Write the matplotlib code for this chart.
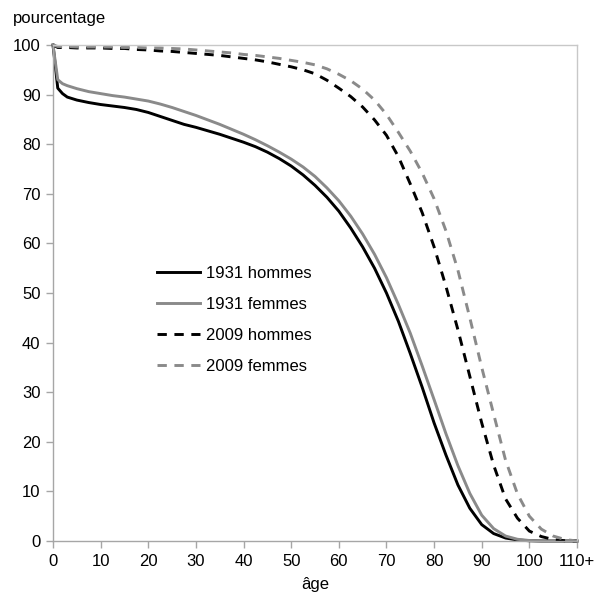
import matplotlib
matplotlib.use("Agg")
import matplotlib.pyplot as plt

plt.rcParams['font.family'] = ['Liberation Sans', 'DejaVu Sans']

ages = [0, 1, 2, 3, 5, 7.5, 10, 12.5, 15, 17.5, 20, 22.5, 25, 27.5, 30, 32.5,
        35, 37.5, 40, 42.5, 45, 47.5, 50, 52.5, 55, 57.5, 60, 62.5, 65, 67.5,
        70, 72.5, 75, 77.5, 80, 82.5, 85, 87.5, 90, 92.5, 95, 97.5, 100, 102.5,
        105, 107.5, 110]
hommes_1931 = [100, 91.3, 90.2, 89.5, 88.9, 88.4, 88.0, 87.7, 87.4, 87.0, 86.4,
               85.6, 84.8, 84.0, 83.4, 82.7, 82.0, 81.2, 80.4, 79.5, 78.4, 77.1,
               75.6, 73.8, 71.7, 69.3, 66.5, 63.1, 59.3, 55.0, 50.0, 44.3, 37.8,
               31.0, 23.8, 17.3, 11.3, 6.6, 3.3, 1.5, 0.6, 0.2, 0.05, 0, 0, 0, 0]
femmes_1931 = [100, 93.0, 92.2, 91.8, 91.2, 90.6, 90.2, 89.8, 89.5, 89.1, 88.7,
               88.1, 87.4, 86.6, 85.8, 84.9, 84.0, 83.0, 82.0, 80.9, 79.7, 78.4,
               77.0, 75.4, 73.5, 71.2, 68.6, 65.5, 61.9, 57.8, 53.1, 47.7, 41.9,
               35.3, 28.5, 21.6, 15.2, 9.6, 5.2, 2.5, 1.0, 0.35, 0.1, 0, 0, 0, 0]
hommes_2009 = [100, 99.5, 99.5, 99.5, 99.4, 99.4, 99.4, 99.3, 99.3, 99.1, 99.0,
               98.8, 98.7, 98.5, 98.3, 98.1, 97.9, 97.6, 97.3, 97.0, 96.6, 96.1,
               95.6, 95.0, 94.2, 92.9, 91.3, 89.6, 87.5, 84.9, 81.8, 77.5, 72.0,
               66.2, 59.3, 51.3, 42.6, 33.2, 23.8, 15.3, 8.5, 4.6, 2.0, 0.9, 0.3,
               0.05, 0]
femmes_2009 = [100, 99.7, 99.7, 99.7, 99.6, 99.6, 99.6, 99.6, 99.5, 99.5, 99.4,
               99.4, 99.3, 99.2, 99.0, 98.8, 98.6, 98.4, 98.1, 97.9, 97.6, 97.3,
               96.9, 96.5, 96.0, 95.2, 94.1, 92.8, 91.1, 88.9, 86.0, 82.4, 78.6,
               74.2, 69.0, 62.5, 54.6, 45.0, 35.0, 25.6, 16.3, 9.5, 5.0, 2.4, 1.0,
               0.3, 0]

xticks = [0, 10, 20, 30, 40, 50, 60, 70, 80, 90, 100, 110]
xticklabels = ['0', '10', '20', '30', '40', '50', '60', '70', '80', '90', '100', '110+']
yticks = [0, 10, 20, 30, 40, 50, 60, 70, 80, 90, 100]

fig = plt.figure(figsize=(5.94, 5.93), dpi=100)
ax = fig.add_axes([53/594, 1-541/593, 524/594, 496/593])

black = '#000000'
grey = '#8a8a8a'
lw = 2.1
ax.plot(ages, hommes_1931, color=black, lw=lw, label='1931 hommes', clip_on=False)
ax.plot(ages, femmes_1931, color=grey, lw=lw, label='1931 femmes', clip_on=False)
ax.plot(ages, hommes_2009, color=black, lw=lw, dashes=(3.2, 2.6), label='2009 hommes', clip_on=False)
ax.plot(ages, femmes_2009, color=grey, lw=lw, dashes=(3.2, 2.6), label='2009 femmes', clip_on=False)

ax.set_xlim(0, 110)
ax.set_ylim(0, 100)
ax.set_xticks(xticks)
ax.set_xticklabels(xticklabels)
ax.set_yticks(yticks)

for s in ['left', 'bottom']:
    ax.spines[s].set_color('#a6a6a6')
for s in ['top', 'right']:
    ax.spines[s].set_color('#c8c8c8')
for s in ax.spines.values():
    s.set_linewidth(1.0)
ax.tick_params(axis='both', colors='#a6a6a6', labelcolor='black', labelsize=12,
               length=5, width=1.0)
ax.tick_params(axis='x', pad=4)
ax.tick_params(axis='y', pad=4)

ax.set_xlabel('âge', fontsize=12, labelpad=6)
fig.text(13/594, 1-19/593, 'pourcentage', fontsize=12, ha='left', va='center')

leg = ax.legend(loc='center left', bbox_to_anchor=((157-53)/524, (541-320)/496),
                frameon=False, fontsize=12, handlelength=2.6, handletextpad=0.35,
                labelspacing=0.95, borderpad=0, borderaxespad=0)

fig.savefig('out.png', dpi=100)
